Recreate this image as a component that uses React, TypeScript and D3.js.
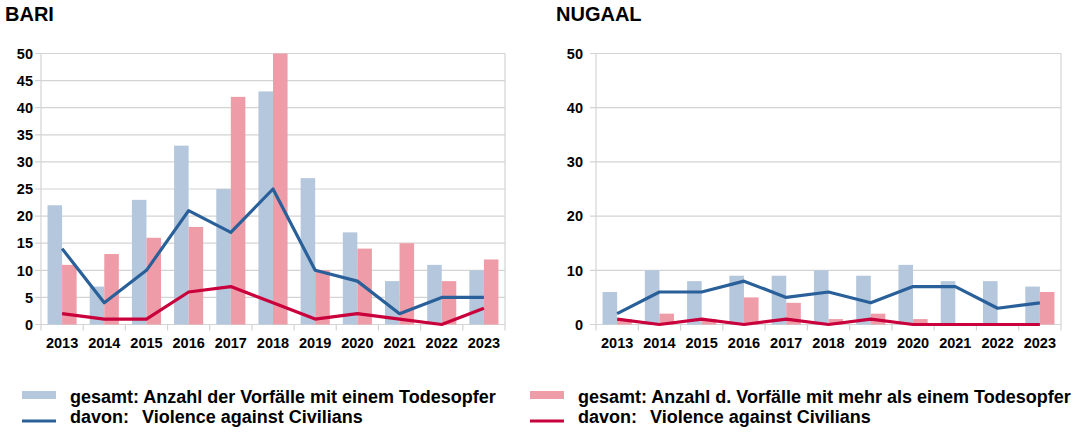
import React from "react";
import * as d3 from "d3";

const years = ["2013", "2014", "2015", "2016", "2017", "2018", "2019", "2020", "2021", "2022", "2023"];

// BARI
const bariSingle = [22, 7, 23, 33, 25, 43, 27, 17, 8, 11, 10];
const bariMulti = [11, 13, 16, 18, 42, 50, 10, 14, 15, 8, 12];
const bariSingleVac = [14, 4, 10, 21, 17, 25, 10, 8, 2, 5, 5];
const bariMultiVac = [2, 1, 1, 6, 7, 4, 1, 2, 1, 0, 3];
const bariTicks = [0, 5, 10, 15, 20, 25, 30, 35, 40, 45, 50];

// NUGAAL
const nugaalSingle = [6, 10, 8, 9, 9, 10, 9, 11, 8, 8, 7];
const nugaalMulti = [1, 2, 1, 5, 4, 1, 2, 1, 0, 0, 6];
const nugaalSingleVac = [2, 6, 6, 8, 5, 6, 4, 7, 7, 3, 4];
const nugaalMultiVac = [1, 0, 1, 0, 1, 0, 1, 0, 0, 0, 0];
const nugaalTicks = [0, 10, 20, 30, 40, 50];

const legendItems = [
  "gesamt: Anzahl der Vorfälle mit einem Todesopfer",
  "gesamt: Anzahl d. Vorfälle mit mehr als einem Todesopfer",
];
const legendSub = ["davon:", "Violence against Civilians"];

const C_BAR1 = "#b4c7dc";
const C_BAR2 = "#ee9ca7";
const C_LINE1 = "#2a6099";
const C_LINE2 = "#c9003c";
const GRID = "#d4d4d4";
const FONT = "'Liberation Sans', Arial, sans-serif";

type PanelProps = {
  title: string;
  titleX: number;
  left: number;
  right: number;
  labelGap: number;
  single: number[];
  multi: number[];
  singleVac: number[];
  multiVac: number[];
  ticks: number[];
};

const Panel = ({ title, titleX, left, right, labelGap, single, multi, singleVac, multiVac, ticks }: PanelProps) => {
  const top = 53.5;
  const bottom = 324.5;
  const x = d3.scaleBand<string>().domain(years).range([left, right]);
  const bw = x.bandwidth();
  const inner = d3.scaleBand<string>().domain(["a", "b"]).range([0, bw]).paddingOuter(0.45);
  const y = d3.scaleLinear().domain([0, 50]).range([bottom, top]);
  const cx = (yr: string) => (x(yr) as number) + bw / 2;
  const line = d3
    .line<number>()
    .x((_, i) => cx(years[i]))
    .y(d => y(d));

  return (
    <g>
      <text x={titleX} y={21} fontFamily={FONT} fontWeight="bold" fontSize={20}>
        {title}
      </text>
      {ticks.map(t => (
        <g key={t}>
          <line x1={left - 6} x2={right} y1={y(t)} y2={y(t)} stroke={GRID} strokeWidth={1.2} />
          <text
            x={left - labelGap}
            y={y(t)}
            dy="0.36em"
            textAnchor="end"
            fontFamily={FONT}
            fontWeight="bold"
            fontSize={14.5}
          >
            {t}
          </text>
        </g>
      ))}
      <line x1={left} x2={left} y1={top} y2={bottom + 6} stroke={GRID} strokeWidth={1.2} />
      <line x1={right} x2={right} y1={top} y2={bottom + 6} stroke={GRID} strokeWidth={1.2} />
      {years.slice(1).map(yr => (
        <line key={yr} x1={x(yr)} x2={x(yr)} y1={bottom} y2={bottom + 6} stroke={GRID} strokeWidth={1.2} />
      ))}
      {years.map((yr, i) => (
        <g key={yr}>
          <rect
            x={(x(yr) as number) + (inner("a") as number)}
            y={y(single[i])}
            width={inner.bandwidth()}
            height={bottom - y(single[i])}
            fill={C_BAR1}
          />
          <rect
            x={(x(yr) as number) + (inner("b") as number)}
            y={y(multi[i])}
            width={inner.bandwidth()}
            height={bottom - y(multi[i])}
            fill={C_BAR2}
          />
          <text
            x={cx(yr)}
            y={348}
            textAnchor="middle"
            fontFamily={FONT}
            fontWeight="bold"
            fontSize={14.5}
          >
            {yr}
          </text>
        </g>
      ))}
      <path d={line(singleVac) || ""} fill="none" stroke={C_LINE1} strokeWidth={3.2} strokeLinejoin="round" />
      <path d={line(multiVac) || ""} fill="none" stroke={C_LINE2} strokeWidth={3.2} strokeLinejoin="round" />
    </g>
  );
};

const Legend = () => {
  const cols = [
    { x: 22, bar: C_BAR1, line: C_LINE1, label: legendItems[0] },
    { x: 530, bar: C_BAR2, line: C_LINE2, label: legendItems[1] },
  ];
  return (
    <g fontFamily={FONT} fontSize={18} fontWeight="bold">
      {cols.map(c => (
        <g key={c.label}>
          <rect x={c.x} y={391} width={34} height={8} fill={c.bar} />
          <text x={c.x + 48} y={403}>
            {c.label}
          </text>
          <line x1={c.x} x2={c.x + 34} y1={421} y2={421} stroke={c.line} strokeWidth={3} />
          <text x={c.x + 48} y={423}>
            {legendSub[0]}
          </text>
          <text x={c.x + 120} y={423}>
            {legendSub[1]}
          </text>
        </g>
      ))}
    </g>
  );
};

export default function App() {
  return (
    <div style={{ position: "absolute", left: 0, top: 0 }}>
      <svg width={1080} height={432} style={{ display: "block", background: "#fff" }}>
        <Panel
          title="BARI"
          titleX={5}
          left={41}
          right={505}
          labelGap={8}
          single={bariSingle}
          multi={bariMulti}
          singleVac={bariSingleVac}
          multiVac={bariMultiVac}
          ticks={bariTicks}
        />
        <Panel
          title="NUGAAL"
          titleX={556}
          left={596}
          right={1061}
          labelGap={13}
          single={nugaalSingle}
          multi={nugaalMulti}
          singleVac={nugaalSingleVac}
          multiVac={nugaalMultiVac}
          ticks={nugaalTicks}
        />
        <Legend />
      </svg>
    </div>
  );
}
